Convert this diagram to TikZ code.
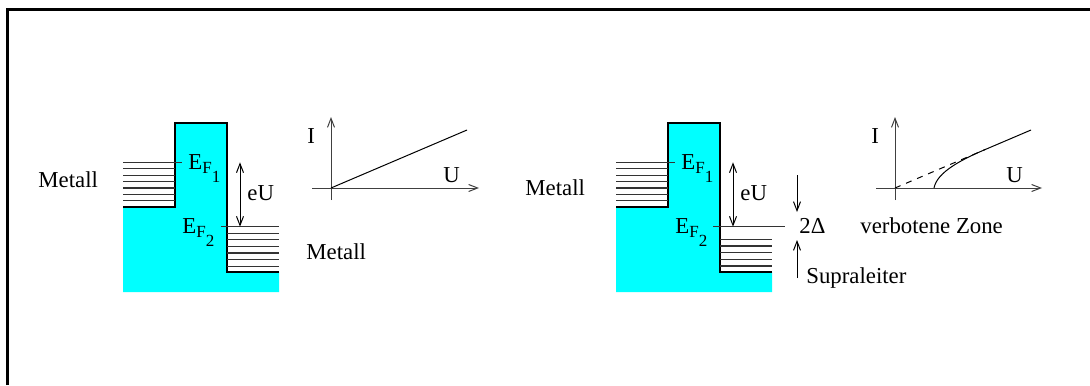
\documentclass[tikz,border=0pt]{standalone}
\usepackage{fontspec}
\setmainfont{Liberation Serif}
\usetikzlibrary{arrows.meta}
\definecolor{aqua}{RGB}{0,255,255}
\newcommand{\efermi}[1]{E\raisebox{-2pt}{\fontsize{8.5}{9}\selectfont F\raisebox{-4.5pt}{#1}}}
\tikzset{
  >={Straight Barb[length=4.5pt,width=3.5pt]},
  band/.style={fill=aqua,draw=none},
  wall/.style={line width=0.6pt,draw=black},
  level/.style={line width=0.6pt,draw=black!80},
  axis/.style={->,line width=0.5pt,draw=black!75},
  lbl/.style={font=\fontsize{11.4}{13}\selectfont,inner sep=0pt,anchor=base west},
}
\begin{document}
\begin{tikzpicture}[x=0.5pt,y=-0.5pt]
  \useasboundingbox (0,0) rectangle (1090,385);
  % frame
  \draw[line width=1.5pt] (7,385) -- (7,9.5) -- (1090,9.5);

  % metal - metal
  \fill[band] (123,292) -- (123,207) -- (175,207) -- (175,123) -- (227,123)
    -- (227,272) -- (279,272) -- (279,292) -- cycle;
  \draw[wall] (123,207) -- (175,207) -- (175,123) -- (227,123) -- (227,272) -- (279,272);
  \foreach \i in {1,...,6} \draw[level] (123,162.3+6.43*\i) -- (175,162.3+6.43*\i);
  \foreach \i in {1,...,6} \draw[level] (227,226.7+6.57*\i) -- (279,226.7+6.57*\i);
  \coordinate (f1a) at (240,162.3);
  \coordinate (f2a) at (240,226.7);
  \draw[level] (123,162.3) -- (182,162.3);
  \draw[level] (221,226.7) -- (279,226.7);
  \draw[<->,line width=0.5pt] (f1a) -- (f2a);
  \node[lbl] (ef1a) at (188,169) {\efermi{1}};
  \node[lbl] (ef2a) at (182,233) {\efermi{2}};
  \node[lbl] (eua) at (247,200) {eU};
  \node[lbl] (ma) at (38,187) {Metall};
  \node[lbl] (mb) at (306,259) {Metall};

  % ohmic curve
  \coordinate (oa) at (331,188);
  \draw[axis] (331,200) -- (331,117);
  \draw[axis] (312,188) -- (479,188);
  \draw[line width=0.5pt] (oa) -- (467,130);
  \node[lbl] (ia) at (307,143) {I};
  \node[lbl] (ua) at (443,182) {U};

  % metal - superconductor
  \fill[band] (616,292) -- (616,207) -- (668,207) -- (668,123) -- (720,123)
    -- (720,272) -- (772,272) -- (772,292) -- cycle;
  \draw[wall] (616,207) -- (668,207) -- (668,123) -- (720,123) -- (720,272) -- (772,272);
  \foreach \i in {1,...,6} \draw[level] (616,162.3+6.43*\i) -- (668,162.3+6.43*\i);
  \foreach \i in {0,...,4} \draw[level] (720,239.3+6.67*\i) -- (772,239.3+6.67*\i);
  \coordinate (f1b) at (733,162.3);
  \coordinate (f2b) at (733,226.7);
  \draw[level] (616,162.3) -- (675,162.3);
  \draw[level] (713,226.7) -- (785,226.7);
  \draw[<->,line width=0.5pt] (f1b) -- (f2b);
  \node[lbl] (ef1b) at (681,169) {\efermi{1}};
  \node[lbl] (ef2b) at (675,233) {\efermi{2}};
  \node[lbl] (eub) at (740,200) {eU};
  \node[lbl] (mc) at (525,195) {Metall};

  % gap
  \coordinate (gt) at (797,175);
  \coordinate (gb) at (797,278);
  \draw[->,line width=0.5pt] (gt) -- (797,212);
  \draw[->,line width=0.5pt] (gb) -- (797,240);
  \node[lbl] (gap) at (799,233) {2Δ};
  \node[lbl] (sl) at (806,283) {Supraleiter};
  \node[lbl] (vz) at (860,233) {verbotene Zone};

  % tunnel curve
  \coordinate (ob) at (895,188);
  \coordinate (jb) at (985,149.6);
  \draw[axis] (895,200) -- (895,117);
  \draw[axis] (876,188) -- (1042,188);
  \draw[dashed,line width=0.5pt] (ob) -- (jb);
  \draw[line width=0.5pt] (934,188) .. controls (937,172) and (962,159.4) .. (jb) -- (1031,130);
  \node[lbl] (ib) at (871,143) {I};
  \node[lbl] (ub) at (1006,182) {U};
\end{tikzpicture}
\end{document}
